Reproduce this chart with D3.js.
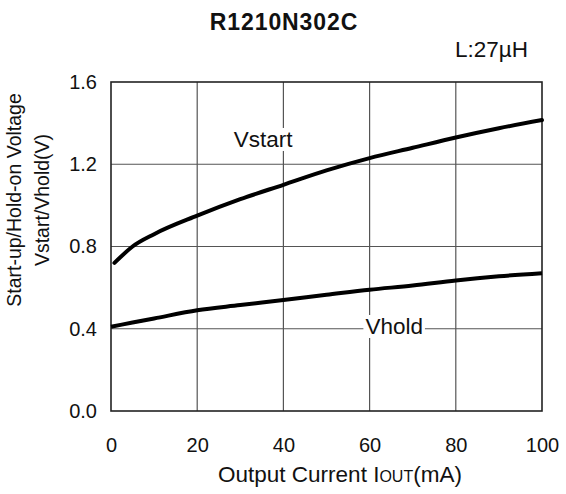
<!DOCTYPE html>
<html>
<head>
<meta charset="utf-8">
<script src="https://cdn.jsdelivr.net/npm/d3@7"></script>
<style>
  body { margin: 0; background: #fff; }
  svg text { font-family: "Liberation Sans", Arial, Helvetica, sans-serif; fill: #111; }
</style>
</head>
<body>
<svg id="chart"></svg>
<script>
const current = [0.8, 5, 10, 20, 30, 40, 50, 60, 70, 80, 90, 100];
const vstart = [0.72, 0.80, 0.86, 0.95, 1.03, 1.10, 1.17, 1.23, 1.28, 1.33, 1.375, 1.415];
const holdCurrent = [0, 5, 10, 20, 30, 40, 50, 60, 70, 80, 90, 100];
const vhold = [0.41, 0.43, 0.45, 0.49, 0.515, 0.54, 0.565, 0.59, 0.61, 0.635, 0.655, 0.67];
const xTicks = [0, 20, 40, 60, 80, 100];
const yTicks = [0, 0.4, 0.8, 1.2, 1.6];

const W = 566, H = 494;
const M = { top: 82, right: 24, bottom: 83, left: 111 };
const PW = W - M.left - M.right;
const PH = H - M.top - M.bottom;

const svg = d3.select("#chart")
  .attr("width", W)
  .attr("height", H)
  .attr("viewBox", `0 0 ${W} ${H}`);

svg.append("rect").attr("width", W).attr("height", H).attr("fill", "#fff");

const g = svg.append("g").attr("transform", `translate(${M.left},${M.top})`);

const x = d3.scaleLinear().domain([0, 100]).range([0, PW]);
const y = d3.scaleLinear().domain([0, 1.6]).range([PH, 0]);

// grid
g.append("g")
  .selectAll("line")
  .data(xTicks.slice(1, -1))
  .join("line")
  .attr("x1", d => x(d)).attr("x2", d => x(d))
  .attr("y1", 0).attr("y2", PH)
  .attr("stroke", "#555").attr("stroke-width", 1.2);

g.append("g")
  .selectAll("line")
  .data(yTicks.slice(1, -1))
  .join("line")
  .attr("x1", 0).attr("x2", PW)
  .attr("y1", d => y(d)).attr("y2", d => y(d))
  .attr("stroke", "#555").attr("stroke-width", 1.2);

// axes (labels only)
const xAxis = g.append("g")
  .attr("transform", `translate(0,${PH})`)
  .call(d3.axisBottom(x).tickValues(xTicks).tickSize(0).tickPadding(27));
const yAxis = g.append("g")
  .call(d3.axisLeft(y).tickValues(yTicks).tickSize(0).tickPadding(14).tickFormat(d3.format(".1f")));
[xAxis, yAxis].forEach(a => {
  a.select(".domain").remove();
  a.selectAll("text")
    .attr("font-family", "'Liberation Sans', Arial, sans-serif")
    .attr("font-size", 20)
    .attr("fill", "#111");
});

// frame
g.append("rect")
  .attr("width", PW).attr("height", PH)
  .attr("fill", "none").attr("stroke", "#222").attr("stroke-width", 1.6);

// curves
const line = d3.line().curve(d3.curveMonotoneX);

g.append("path")
  .datum(current.map((c, i) => [x(c), y(vstart[i])]))
  .attr("fill", "none").attr("stroke", "#000").attr("stroke-width", 4)
  .attr("stroke-linecap", "round")
  .attr("d", line);

g.append("path")
  .datum(holdCurrent.map((c, i) => [x(c), y(vhold[i])]))
  .attr("fill", "none").attr("stroke", "#000").attr("stroke-width", 4)
  .attr("d", line);

// curve labels with white backgrounds
function curveLabel(text, cx, cy) {
  const lg = g.append("g");
  const t = lg.append("text")
    .attr("x", x(cx)).attr("y", y(cy))
    .attr("text-anchor", "middle")
    .attr("font-size", 22.5)
    .text(text);
  const b = t.node().getBBox();
  lg.insert("rect", "text")
    .attr("x", b.x - 2).attr("y", b.y + 1)
    .attr("width", b.width + 4).attr("height", b.height - 2)
    .attr("fill", "#fff");
}
curveLabel("Vstart", 35.3, 1.284);
curveLabel("Vhold", 65.7, 0.3745);

// titles
svg.append("text")
  .attr("x", 284).attr("y", 30)
  .attr("text-anchor", "middle")
  .attr("font-size", 23).attr("font-weight", "bold")
  .attr("letter-spacing", 0.9)
  .text("R1210N302C");

svg.append("text")
  .attr("x", 528).attr("y", 57)
  .attr("text-anchor", "end")
  .attr("font-size", 22.5)
  .text("L:27\u00b5H");

const xl = svg.append("text")
  .attr("x", 340).attr("y", 482)
  .attr("text-anchor", "middle")
  .attr("font-size", 22.5);
xl.append("tspan").text("Output Current I");
xl.append("tspan").attr("font-size", 16).text("OUT");
xl.append("tspan").text("(mA)");

const yl = svg.append("text")
  .attr("transform", "translate(0,200) rotate(-90)")
  .attr("text-anchor", "middle")
  .attr("font-size", 19.5);
yl.append("tspan").attr("x", 0).attr("y", 21).text("Start-up/Hold-on Voltage");
yl.append("tspan").attr("x", 0).attr("y", 49).text("Vstart/Vhold(V)");
</script>
</body>
</html>
